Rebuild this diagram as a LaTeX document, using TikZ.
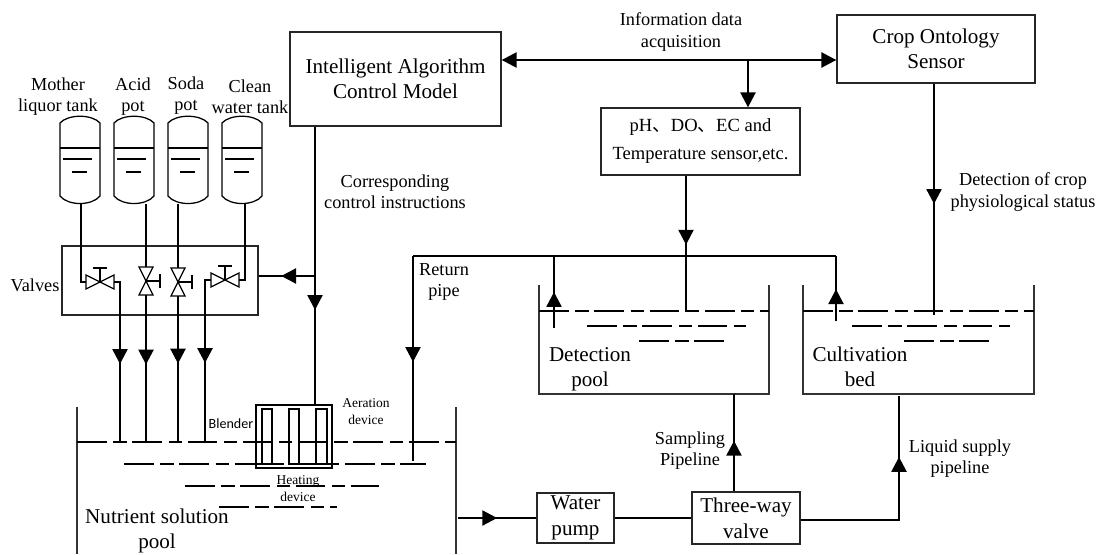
\documentclass[tikz,border=0pt]{standalone}
\usepackage{fontspec}
\setmainfont{Liberation Serif}
\newfontfamily\bodysans{Carlito}
\newfontfamily\cjk{Noto Sans CJK SC}
\usepackage{tikz}
\usetikzlibrary{arrows.meta,decorations.markings}

\tikzset{
	pipe/.style={line width=1.8pt},
	thin line/.style={line width=.8pt,color=black!80},
	liquid/.style={line width=.9pt,dash pattern=on 21.3pt off 4.6pt on 9.4pt off 4pt},
	box/.style={draw=black!85,line width=.9pt,fill=white,align=center,inner sep=0pt},
	big/.style={font=\fontsize{15}{17.8}\selectfont,align=center},
	small/.style={font=\fontsize{13}{15}\selectfont,align=center},
	tiny/.style={font=\fontsize{9.6}{12}\selectfont,align=center},
	midtip/.style={postaction={decorate,decoration={markings,mark=at position #1 with {\arrow{Triangle[length=10.6pt,width=10.6pt]}}}}},
	pics/tank/.style={code={
		\draw[line width=.9pt] (-20,-37) .. controls (-12,-46) and (12,-46) .. (20,-37) -- (20,36) .. controls (12,46) and (-12,46) .. (-20,36) -- cycle;
		\draw[line width=.8pt] (-20,-12) -- (20,-12);
		\draw[line width=.8pt] (-17,-1) -- (12,-1);
		\draw[line width=.8pt] (-8,12) -- (7,12);
		\coordinate (-out) at (1,44);
	}},
	pics/valve/.style={code={
		\draw[line width=.9pt] (-14,-7) -- (14,7) -- (14,-7) -- (-14,7) -- cycle;
		\draw[line width=.9pt] (0,0) -- (0,-14);
		\draw[line width=.9pt] (-7,-14) -- (7,-14);
		\coordinate (-in) at (-14,0);
		\coordinate (-out) at (14,0);
	}}
}

\begin{document}
\begin{tikzpicture}[x=.025cm,y=-.025cm]
	\useasboundingbox (0,0) rectangle (1096,554);

	% boxes
	\node[box,big,minimum width=5.275cm,minimum height=2.35cm] (algo) at (395.5,79) {Intelligent Algorithm\\Control Model};
	\node[box,big,minimum width=4.95cm,minimum height=1.7cm] (crop) at (936,49) {Crop Ontology\\Sensor};
	\node[box,small,minimum width=4.975cm,minimum height=1.675cm,font=\fontsize{13.2}{19.9}\selectfont] (sensor) at (700.5,141.5) {pH{\cjk 、}DO{\cjk 、}EC and\\Temperature sensor,etc.};
	\node[box,big,minimum width=1.925cm,minimum height=1.25cm,font=\fontsize{15}{18.4}\selectfont] (pump) at (575.5,518) {Water\\pump};
	\node[box,big,minimum width=2.7cm,minimum height=1.3cm,font=\fontsize{15}{18.4}\selectfont] (threeway) at (746,518) {Three-way\\valve};
	\node[draw=black!85,line width=.8pt,minimum width=4.9cm,minimum height=1.725cm] (valves) at (160,280.5) {};

	% tanks
	\pic (tankA) at (80,160) {tank};
	\pic (tankB) at (134,160) {tank};
	\pic (tankC) at (188,160) {tank};
	\pic (tankD) at (242,160) {tank};
	\node[small] (labelA) at (58,97) {Mother\\liquor tank};
	\node[small] (labelB) at (133,97) {Acid\\pot};
	\node[small] (labelC) at (186,96) {Soda\\pot};
	\node[small] (labelD) at (250,97) {Clean\\water tank};

	% valves
	\pic (valveA) at (100,282) {valve};
	\pic[rotate=-90] (valveB) at (146,281) {valve};
	\pic[rotate=-90] (valveC) at (178,282) {valve};
	\pic (valveD) at (225,280) {valve};
	\node[small] (valvelabel) at (35,285) {Valves};

	% water tops of the big pool
	\coordinate (dropA) at (120,443);
	\coordinate (dropB) at (146,443);
	\coordinate (dropC) at (178,443);
	\coordinate (dropD) at (205,443);
	\coordinate (feedD) at (245,204);
	\draw[pipe] (tankA-out) |- (valveA-in);
	\draw[pipe,midtip=.527] (valveA-out) -| (dropA);
	\draw[pipe] (tankB-out -| valveB-in) -- (valveB-in);
	\draw[pipe,midtip=.47] (valveB-out) -- (dropB);
	\draw[pipe] (tankC-out -| valveC-in) -- (valveC-in);
	\draw[pipe,midtip=.46] (valveC-out) -- (dropC);
	\draw[pipe] (feedD) |- (valveD-out);
	\draw[pipe,midtip=.527] (valveD-in) -| (dropD);

	% pool with blender
	\node[draw,line width=.8pt,minimum width=1.9cm,minimum height=1.575cm] (blender) at (294,436.5) {};
	\draw[line width=.8pt] (262,409) rectangle (272,464);
	\draw[line width=.8pt] (289,409) rectangle (299,464);
	\draw[line width=.8pt] (316,409) rectangle (327,464);
	\draw[thin line] (77,407) -- (77,554);
	\draw[thin line] (456,407) -- (456,554);
	\draw[liquid] (77,442) -- (456,442);
	\draw[liquid] (124,464) -- (426,464);
	\draw[liquid] (185,486) -- (379,486);
	\draw[liquid] (219,507) -- (337,507);
	\node[big] (poollabel) at (157,531) {Nutrient solution\\pool};
	\node[tiny,font=\bodysans\fontsize{10}{12}\selectfont] (blenderlabel) at (231,424) {Blender};
	\node[tiny] (aeration) at (366,412) {Aeration\\device};
	\node[tiny] (heating) at (298,489) {Heating\\device};

	% control line
	\coordinate (ctrlbranch) at (315,276);
	\draw[pipe,midtip=.66] (algo.south -| ctrlbranch) -- (blender.north -| ctrlbranch);
	\draw[pipe,midtip=.6] (ctrlbranch) -- (valves.east |- ctrlbranch);
	\node[small] (ctrllabel) at (395,192) {Corresponding\\control instructions};

	% data line
	\coordinate (datamid) at (748,60);
	\draw[pipe,{Triangle[length=10.6pt,width=10.6pt]}-{Triangle[length=10.6pt,width=10.6pt]}] (algo.east |- datamid) -- (crop.west |- datamid);
	\draw[pipe,-{Triangle[length=10.6pt,width=10.6pt]}] (datamid) -- (sensor.north -| datamid);
	\node[small] (datalabel) at (681,32) {Information data\\acquisition};

	% return pipe and upper branches
	\coordinate (mainleft) at (413,256);
	\coordinate (mainright) at (836,256);
	\coordinate (mainbranch) at (686,256);
	\coordinate (returnend) at (413,461);
	\coordinate (cultiend) at (836,321);
	\coordinate (detecttop) at (554,256);
	\coordinate (detectend) at (554,328);
	\coordinate (sensorend) at (686,312);
	\coordinate (cropend) at (934,315);
	\draw[pipe,midtip=.86] (sensor.south -| mainbranch) -- (mainbranch);
	\draw[pipe] (mainbranch) -- (sensorend);
	\draw[pipe,midtip=.517] (mainleft) -- (returnend);
	\draw[pipe] (mainleft) -- (mainright);
	\draw[pipe,midtip=.49] (cultiend) -- (mainright);
	\draw[pipe,midtip=.5] (detectend) -- (detecttop);
	\draw[pipe,midtip=.52] (crop.south -| cropend) -- (cropend);
	\node[small] (returnlabel) at (444,282) {Return\\pipe};
	\node[small] (physlabel) at (1023,192) {Detection of crop\\physiological status};

	% detection pool
	\draw[thin line] (539,285) -- (539,394) -- (769,394) -- (769,285);
	\draw[liquid] (539,311) -- (769,311);
	\draw[liquid] (587,326) -- (746,326);
	\draw[liquid] (639,341) -- (724,341);
	\node[big] (detectlabel) at (590,369.5) {Detection\\pool};

	% cultivation bed
	\draw[thin line] (803,285) -- (803,394) -- (1034,394) -- (1034,285);
	\draw[liquid] (803,311) -- (1034,311);
	\draw[liquid] (852,326) -- (1010,326);
	\draw[liquid] (904,341) -- (989,341);
	\node[big] (cultilabel) at (860,367) {Cultivation\\bed};

	% lower pipes
	\coordinate (poolout) at (458,518);
	\coordinate (samplebase) at (734,394);
	\coordinate (supplybase) at (899,396);
	\coordinate (supplyrow) at (899,520);
	\draw[pipe,midtip=.5] (poolout) -- (pump.west |- poolout);
	\draw[pipe] (pump.east) -- (threeway.west);
	\draw[pipe,midtip=.52] (threeway.north -| samplebase) -- (samplebase);
	\draw[pipe,midtip=.726] (threeway.east |- supplyrow) -- (supplyrow) -- (supplybase);
	\node[small] (samplelabel) at (690,451) {Sampling\\Pipeline};
	\node[small] (supplylabel) at (960,459) {Liquid supply\\pipeline};
\end{tikzpicture}
\end{document}
